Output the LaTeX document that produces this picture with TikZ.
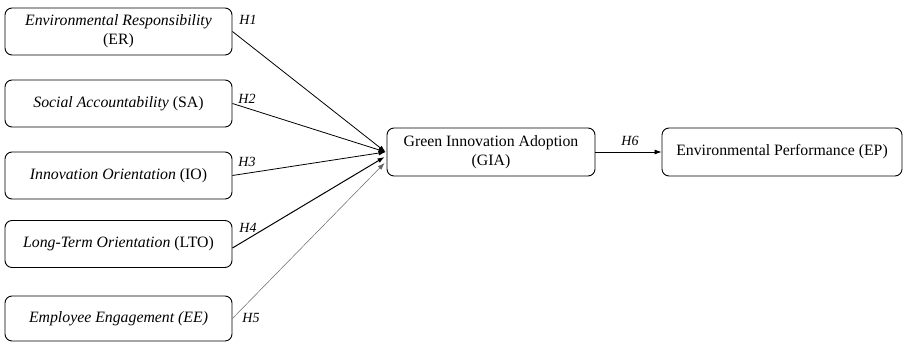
\documentclass[tikz,border=0pt]{standalone}
\usepackage{fontspec}
\setmainfont{Liberation Serif}
\usetikzlibrary{calc,arrows.meta}
\begin{document}
\begin{tikzpicture}[x=1pt,y=-1pt,
  box/.style={draw, rounded corners=7pt, line width=0.9pt, align=center, inner sep=0pt, font=\fontsize{15.8}{19}\selectfont},
  hyp/.style={font=\itshape\fontsize{14}{16}\selectfont},
  link/.style={line width=0.8pt, -{Latex[length=7pt,width=5pt]}}]
\useasboundingbox (0,0) rectangle (912,342);
\node[box, minimum width=227pt, minimum height=47pt] (er) at (118.5,31.5) {\textit{Environmental Responsibility}\\(ER)};
\node[box, minimum width=227pt, minimum height=47pt] (sa) at (118.5,103.5) {\textit{Social Accountability} (SA)};
\node[box, minimum width=227pt, minimum height=47pt] (io) at (118.5,175.5) {\textit{Innovation Orientation} (IO)};
\node[box, minimum width=227pt, minimum height=47pt] (lto) at (118.5,244) {\textit{Long-Term Orientation} (LTO)};
\node[box, minimum width=227pt, minimum height=45pt] (ee) at (118.5,318.5) {\textit{Employee Engagement (EE)}};
\node[box, minimum width=208pt, minimum height=48pt] (gia) at (491,152) {Green Innovation Adoption\\(GIA)};
\node[box, minimum width=240pt, minimum height=48pt] (ep) at (782,152) {Environmental Performance (EP)};
\coordinate (t1) at ($(gia.west)+(-1,0)$);
\coordinate (t4) at ($(gia.west)+(-2,5)$);
\coordinate (t5) at ($(gia.west)+(-2,11)$);
\coordinate (s4) at ($(lto.east)+(0,4)$);
\draw[link] (er.east) -- (t1);
\draw[link] (sa.east) -- (t1);
\draw[link] (io.east) -- (t1);
\draw[link, line width=1pt] (s4) -- (t4);
\draw[link, line width=0.5pt, draw=black!60] (ee.east) -- (t5);
\draw[link] (gia.east) -- (ep.west);
\node[hyp] (h1) at (248,20) {H1};
\node[hyp] (h2) at (247,99) {H2};
\node[hyp] (h3) at (247,162) {H3};
\node[hyp] (h4) at (248,228) {H4};
\node[hyp] (h5) at (251,318) {H5};
\node[hyp] (h6) at (630,141) {H6};
\end{tikzpicture}
\end{document}
